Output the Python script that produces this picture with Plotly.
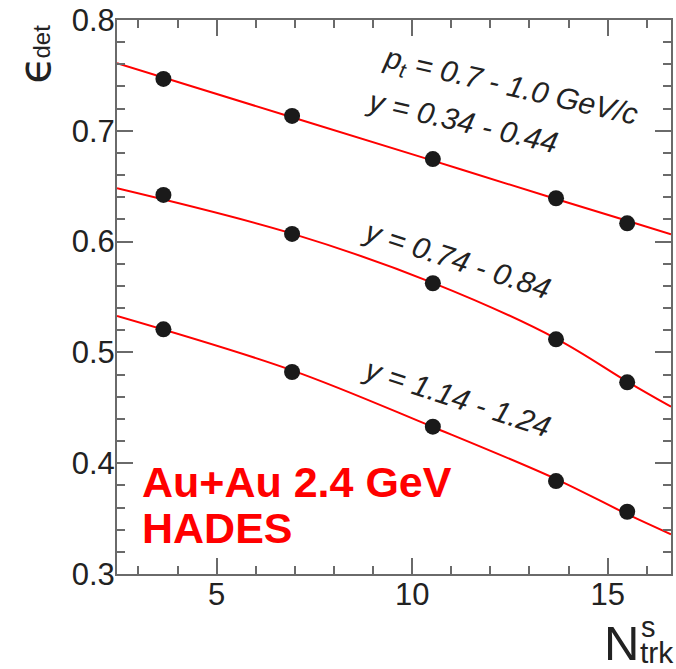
import plotly.graph_objects as go

# Number of reconstructed tracks per sector (bin centres)
n_trk = [3.64, 6.93, 10.53, 13.68, 15.50]

# Detection efficiency for the three rapidity bins (pt = 0.7 - 1.0 GeV/c)
eff_y034 = [0.7468, 0.7134, 0.6745, 0.6391, 0.6165]
eff_y074 = [0.6421, 0.6069, 0.5624, 0.5118, 0.4730]
eff_y114 = [0.5208, 0.4823, 0.4330, 0.3839, 0.3562]

# Fit curves, sampled along the N_trk range
fit_x = [2.453, 6.93, 10.53, 13.68, 15.50, 16.62]
fit_y034 = [0.7609, 0.7122, 0.6731, 0.6384, 0.6188, 0.6066]
fit_y074 = [0.6481, 0.6072, 0.5628, 0.5125, 0.4737, 0.4510]
fit_y114 = [0.5329, 0.4838, 0.4327, 0.3857, 0.3540, 0.3358]

bin_labels = ["y = 0.34 - 0.44", "y = 0.74 - 0.84", "y = 1.14 - 1.24"]

FONT = "Liberation Sans, Arial, Helvetica, sans-serif"
AXIS_COL = "#6a6a6a"
TXT_COL = "#222222"

fig = go.Figure()

for fy in (fit_y034, fit_y074, fit_y114):
    fig.add_trace(go.Scatter(
        x=fit_x, y=fy, mode="lines",
        line=dict(color="#ff0000", width=2, shape="spline", smoothing=1.0),
        showlegend=False, hoverinfo="skip"))

for ey in (eff_y034, eff_y074, eff_y114):
    fig.add_trace(go.Scatter(
        x=n_trk, y=ey, mode="markers",
        marker=dict(color="#1a1a1a", size=16),
        showlegend=False))

axis_common = dict(
    showline=True, linecolor=AXIS_COL, linewidth=2, mirror="ticks",
    ticks="inside", ticklen=16, tickwidth=1.5, tickcolor=AXIS_COL,
    showgrid=False, zeroline=False,
    tickfont=dict(family=FONT, size=31, color=TXT_COL),
)

fig.update_xaxes(range=[2.453, 16.62], tick0=0, dtick=5, ticklabelstandoff=-8,
                 minor=dict(ticks="inside", ticklen=8, dtick=1, tick0=0,
                            tickcolor=AXIS_COL, tickwidth=1.5, showgrid=False),
                 **axis_common)
fig.update_yaxes(range=[0.3, 0.8], tick0=0, dtick=0.1, tickformat=".1f",
                 ticklabelstandoff=-6,
                 minor=dict(ticks="inside", ticklen=8, dtick=0.02, tick0=0,
                            tickcolor=AXIS_COL, tickwidth=1.5, showgrid=False),
                 **axis_common)

ann = []
# rapidity bin labels, rotated along the curves
ann.append(dict(x=12.52, y=0.7395, xref="x", yref="y", textangle=13,
                text="<i>p<sub>t</sub> = 0.7 - 1.0 GeV/c</i>"))
ann.append(dict(x=11.30, y=0.708, xref="x", yref="y", textangle=13,
                text="<i>" + bin_labels[0] + "</i>"))
ann.append(dict(x=11.15, y=0.5843, xref="x", yref="y", textangle=18,
                text="<i>" + bin_labels[1] + "</i>"))
ann.append(dict(x=11.15, y=0.4597, xref="x", yref="y", textangle=18,
                text="<i>" + bin_labels[2] + "</i>"))
for a in ann:
    a.update(showarrow=False, xanchor="center", yanchor="middle",
             font=dict(family=FONT, size=30, color=TXT_COL))

# system label
for txt, yy in (("Au+Au 2.4 GeV", 0.166), ("HADES", 0.083)):
    ann.append(dict(x=0.0420, y=yy, xref="paper", yref="paper",
                    xanchor="left", yanchor="middle", showarrow=False,
                    text="<b>" + txt + "</b>",
                    font=dict(family=FONT, size=43, color="#ff0000")))

# axis titles
ann.append(dict(x=0.9110, y=-0.1245, xref="paper", yref="paper",
                xanchor="center", yanchor="middle", showarrow=False,
                text="N", font=dict(family=FONT, size=49, color=TXT_COL)))
ann.append(dict(x=0.959, y=-0.0957, xref="paper", yref="paper",
                xanchor="center", yanchor="middle", showarrow=False,
                text="s", font=dict(family=FONT, size=29, color=TXT_COL)))
ann.append(dict(x=0.9745, y=-0.1419, xref="paper", yref="paper",
                xanchor="center", yanchor="middle", showarrow=False,
                text="trk", font=dict(family=FONT, size=30, color=TXT_COL)))
ann.append(dict(x=-0.1505, y=0.9097, xref="paper", yref="paper",
                xanchor="center", yanchor="middle", showarrow=False, textangle=-90,
                text="\u03f5", font=dict(family="DejaVu Sans", size=44, color=TXT_COL)))
ann.append(dict(x=-0.1362, y=0.9603, xref="paper", yref="paper",
                xanchor="center", yanchor="middle", showarrow=False, textangle=-90,
                text="det", font=dict(family=FONT, size=24, color=TXT_COL)))

fig.update_layout(
    width=676, height=669,
    margin=dict(l=117, r=3, t=20, b=95),
    paper_bgcolor="white", plot_bgcolor="white",
    annotations=ann,
    showlegend=False,
)

fig.write_html("out.html")
